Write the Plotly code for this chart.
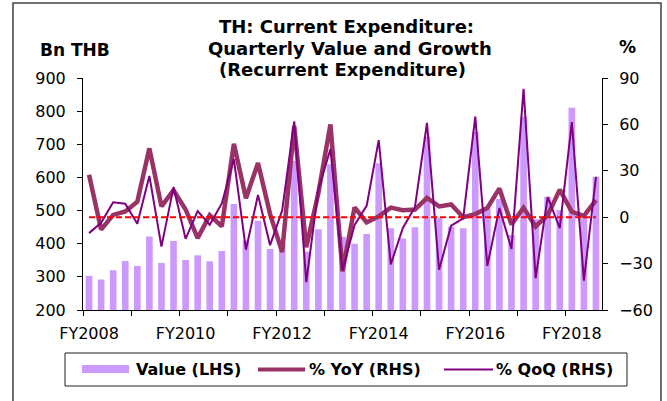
import plotly.graph_objects as go

# ---------------- data ----------------
quarters = [f"FY{y}Q{q}" for y in range(2008, 2019) for q in range(1, 5)][:43]
value_bn = [303, 292, 320, 348, 333, 422, 342, 408, 351, 365,
            347, 378, 520, 410, 469, 384, 400, 650, 376, 444,
            640, 421, 400, 429, 643, 447, 416, 450, 723, 477,
            451, 447, 738, 505, 535, 426, 783, 474, 542, 502,
            810, 478, 602]
yoy_pct = [27.5, -8, 1.5, 3.7, 10, 44.5, 7, 17.5, 5, -13.5,
           1.3, -6, 47.5, 12.3, 35, 2, -22.5, 59, -19.5, 15.6,
           60, -35, 6.4, -3.4, 0.5, 6.2, 4.5, 4.9, 12.4, 7,
           8.2, 0, 2, 6, 18.6, -4.7, 6.1, -6, 1.3, 17.8,
           3.4, 0.8, 11]
qoq_pct = [-10.3, -3.6, 9.6, 8.7, -4.3, 26.7, -19, 19.3, -14, 4,
           -4.9, 8.9, 37.6, -21, 14.4, -18.1, 4.2, 62, -42, 18,
           44, -34.5, -5, 7.3, 49.8, -30.5, -7, 6.5, 61, -34,
           -5.5, -0.8, 65, -31.5, 6, -20.5, 83, -39.5, 13, -7.1,
           61.5, -41, 26]
year_labels = ["FY2008", "FY2010", "FY2012", "FY2014", "FY2016", "FY2018"]
left_ticks = [200, 300, 400, 500, 600, 700, 800, 900]
right_ticks = [-60, -30, 0, 30, 60, 90]

# ---------------- layout constants ----------------
W, H = 667, 401
ML, MR, MT, MB = 83, 65, 78, 91
PW, PH = W - ML - MR, H - MT - MB

def px(x):
    return (x - ML) / PW

def py(y):
    return (H - MB - y) / PH

FONT = "DejaVu Sans"
BAR_C = "#CC99FF"
YOY_C = "#993366"
QOQ_C = "#800080"

xi = list(range(len(quarters)))
label_pos = [quarters.index(y + "Q1") for y in year_labels]
boundary_ticks = [quarters.index(f"FY{y}Q1") - 0.5 for y in range(2008, 2019)]

fig = go.Figure()
fig.add_trace(go.Bar(x=xi, y=value_bn, name="Value (LHS)", marker=dict(color=BAR_C, line=dict(width=0)),
                     yaxis="y", showlegend=False))
fig.add_trace(go.Scatter(x=xi, y=yoy_pct, name="% YoY (RHS)", mode="lines",
                         line=dict(color=YOY_C, width=4.5), yaxis="y2", showlegend=False))
fig.add_trace(go.Scatter(x=xi, y=qoq_pct, name="% QoQ (RHS)", mode="lines",
                         line=dict(color=QOQ_C, width=2), yaxis="y2", showlegend=False))

shapes = [
    # zero reference line on RHS
    dict(type="line", xref="x", yref="y2", x0=xi[0], x1=xi[-1], y0=0, y1=0,
         line=dict(color="#FF0000", width=2, dash="6px,3px"), layer="above"),
    # outer frame
    dict(type="rect", xref="paper", yref="paper", x0=px(13), x1=px(661), y0=py(412), y1=py(3),
         line=dict(color="#404040", width=1.5), fillcolor="rgba(0,0,0,0)", layer="above"),
    # legend box
    dict(type="rect", xref="paper", yref="paper", x0=px(65), x1=px(627), y0=py(386), y1=py(353),
         line=dict(color="#202020", width=1), fillcolor="white", layer="above"),
    dict(type="rect", xref="paper", yref="paper", x0=px(82), x1=px(129), y0=py(373), y1=py(365),
         line=dict(width=0), fillcolor=BAR_C, layer="above"),
    dict(type="line", xref="paper", yref="paper", x0=px(258), x1=px(305), y0=py(369.5), y1=py(369.5),
         line=dict(color=YOY_C, width=4), layer="above"),
    dict(type="line", xref="paper", yref="paper", x0=px(444), x1=px(493), y0=py(369.5), y1=py(369.5),
         line=dict(color=QOQ_C, width=2), layer="above"),
]

def ann(text, x, y, size, bold=True, xanchor="center"):
    return dict(text=f"<b>{text}</b>" if bold else text, x=px(x), y=py(y), xref="paper", yref="paper",
                xanchor=xanchor, yanchor="middle", showarrow=False,
                font=dict(family=FONT, size=size, color="black"))

annotations = [
    ann("TH: Current Expenditure:", 346, 26.7, 18),
    ann("Quarterly Value and Growth", 350, 48.5, 18),
    ann("(Recurrent Expenditure)", 342, 70, 18),
    ann("Bn THB", 75, 49.5, 17),
    ann("%", 627, 47, 17),
    ann("Value (LHS)", 134, 369.5, 16, xanchor="left"),
    ann("% YoY (RHS)", 307, 369.5, 16, xanchor="left"),
    ann("% QoQ (RHS)", 494, 369.5, 16, xanchor="left"),
]

axis_common = dict(showgrid=False, zeroline=False, showline=True, linecolor="black", linewidth=1,
                   ticks="outside", ticklen=5, tickcolor="black", tickwidth=1,
                   tickfont=dict(family=FONT, size=16, color="black"))

fig.update_layout(
    width=W, height=H,
    margin=dict(l=ML, r=MR, t=MT, b=MB),
    paper_bgcolor="white", plot_bgcolor="white",
    bargap=0.45,
    showlegend=False,
    xaxis=dict(range=[-0.5, len(quarters) - 0.5], showgrid=False, zeroline=False, showline=True,
               linecolor="black", linewidth=1, ticks="", tickmode="array",
               tickvals=label_pos, ticktext=year_labels, ticklabelstandoff=9,
               tickfont=dict(family=FONT, size=16, color="black"),
               minor=dict(tickmode="array", tickvals=boundary_ticks, ticks="outside", ticklen=5,
                          tickcolor="black", tickwidth=1, showgrid=False)),
    yaxis=dict(range=[200, 900], tickmode="array", tickvals=left_ticks, ticklabelstandoff=8, **axis_common),
    yaxis2=dict(range=[-60, 90], tickmode="array", tickvals=right_ticks, overlaying="y", side="right",
                ticklabelstandoff=8, **axis_common),
    shapes=shapes,
    annotations=annotations,
)

fig.write_html("out.html",
               config={"displayModeBar": False},
               post_script="document.body.style.margin='0';document.body.style.padding='0';"
                           "document.documentElement.style.overflow='hidden';")
